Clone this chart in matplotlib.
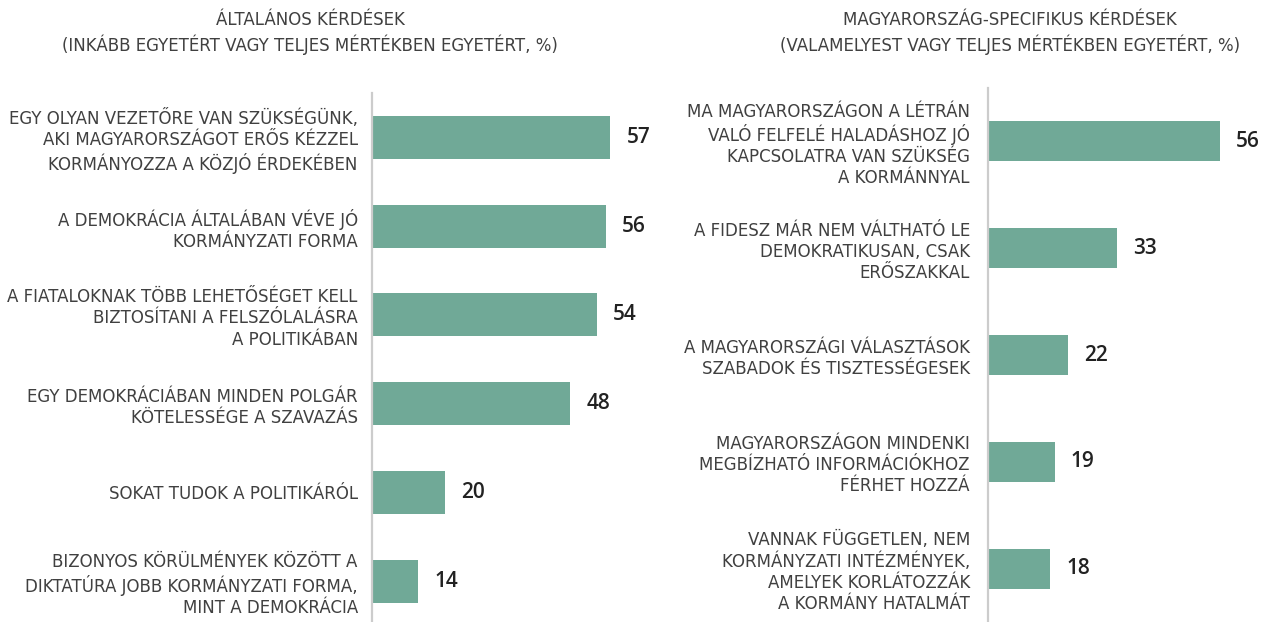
import matplotlib
matplotlib.use('Agg')
import matplotlib.pyplot as plt

# general questions (left panel)
left_title = 'ÁLTALÁNOS KÉRDÉSEK\n(INKÁBB EGYETÉRT VAGY TELJES MÉRTÉKBEN EGYETÉRT, %)'
left_labels = [
    'EGY OLYAN VEZETŐRE VAN SZÜKSÉGÜNK,\nAKI MAGYARORSZÁGOT ERŐS KÉZZEL\nKORMÁNYOZZA A KÖZJÓ ÉRDEKÉBEN',
    'A DEMOKRÁCIA ÁLTALÁBAN VÉVE JÓ\nKORMÁNYZATI FORMA',
    'A FIATALOKNAK TÖBB LEHETŐSÉGET KELL\nBIZTOSÍTANI A FELSZÓLALÁSRA\nA POLITIKÁBAN',
    'EGY DEMOKRÁCIÁBAN MINDEN POLGÁR\nKÖTELESSÉGE A SZAVAZÁS',
    'SOKAT TUDOK A POLITIKÁRÓL',
    'BIZONYOS KÖRÜLMÉNYEK KÖZÖTT A\nDIKTATÚRA JOBB KORMÁNYZATI FORMA,\nMINT A DEMOKRÁCIA',
]
left_values = [57, 56, 54, 48, 20, 14]

# Hungary specific questions (right panel)
right_title = 'MAGYARORSZÁG-SPECIFIKUS KÉRDÉSEK\n(VALAMELYEST VAGY TELJES MÉRTÉKBEN EGYETÉRT, %)'
right_labels = [
    'MA MAGYARORSZÁGON A LÉTRÁN\nVALÓ FELFELÉ HALADÁSHOZ JÓ\nKAPCSOLATRA VAN SZÜKSÉG\nA KORMÁNNYAL',
    'A FIDESZ MÁR NEM VÁLTHATÓ LE\nDEMOKRATIKUSAN, CSAK\nERŐSZAKKAL',
    'A MAGYARORSZÁGI VÁLASZTÁSOK\nSZABADOK ÉS TISZTESSÉGESEK',
    'MAGYARORSZÁGON MINDENKI\nMEGBÍZHATÓ INFORMÁCIÓKHOZ\nFÉRHET HOZZÁ',
    'VANNAK FÜGGETLEN, NEM\nKORMÁNYZATI INTÉZMÉNYEK,\nAMELYEK KORLÁTOZZÁK\nA KORMÁNY HATALMÁT',
]
right_values = [56, 33, 22, 19, 18]

BAR = '#70a997'
SPINE = '#cccccc'
TXT = '#404040'
label_font = ['DejaVu Sans']
value_font = ['Open Sans', 'DejaVu Sans']

fig = plt.figure(figsize=(12.69, 6.22), dpi=100)


def panel(rect, labels, values, xmin, height, ylim, pad):
    ax = fig.add_axes(rect)
    y = list(range(len(values)))
    ax.barh(y, values, height=height, color=BAR)
    ax.set_xlim(xmin, 65)
    ax.set_ylim(*ylim)
    for s in ['top', 'right', 'bottom']:
        ax.spines[s].set_visible(False)
    ax.spines['left'].set_color(SPINE)
    ax.spines['left'].set_linewidth(1.6)
    ax.set_xticks([])
    ax.set_yticks(y)
    ax.set_yticklabels(labels, family=label_font, fontsize=12, color=TXT,
                       ha='right', ma='right', linespacing=1.22)
    ax.tick_params(axis='y', length=0, pad=pad)
    for yi, v in zip(y, values):
        ax.annotate(str(v), (v, yi), xytext=(11.5, 0), textcoords='offset points',
                    ha='left', va='center', fontsize=15, family=value_font,
                    weight='semibold', color='#222222')
    return ax


panel([0.2929, 0.0, 0.2163, 0.8505], left_labels, left_values, 3.6, 0.485,
      (5.46, -0.5), 10)
panel([0.7786, 0.0, 0.2145, 0.8585], right_labels, right_values, 4.1, 0.375,
      (4.5, -0.5), 13)

fig.text(310 / 1269, 1 - 33 / 622, left_title, ha='center', va='center',
         family=label_font, fontsize=12, color=TXT, linespacing=1.36)
fig.text(1010 / 1269, 1 - 33 / 622, right_title, ha='center', va='center',
         family=label_font, fontsize=12, color=TXT, linespacing=1.36)

fig.savefig('out.png', dpi=100)
